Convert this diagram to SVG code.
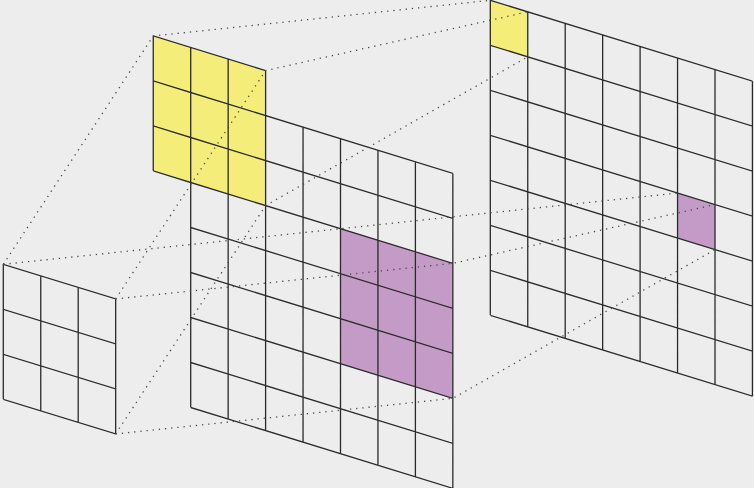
<svg xmlns="http://www.w3.org/2000/svg" width="754" height="488" viewBox="0 0 754 488">
  <style>
    .g { fill: none; stroke: #2a2a2a; stroke-width: 1.3; }
    .yel { fill: #f5ed7a; stroke: none; }
    .pur { fill: #c49ac6; stroke: none; }
    .dot { fill: none; stroke: #4a4a4a; stroke-width: 1.3; stroke-dasharray: 1.3 4.9; }
  </style>
  <rect x="0" y="0" width="754" height="488" fill="#ededed"/>

  <g id="kernel" transform="matrix(1,0.3084,0,1,3.3,264.3)">
    <path class="g" d="M0,0V135M37.45,0V135M74.9,0V135M112.35,0V135M0,0H112.35M0,45H112.35M0,90H112.35M0,135H112.35"/>
  </g>

  <g id="input" transform="matrix(1,0.3084,0,1,190.7,92.5)">
    <rect class="yel" x="-37.45" y="-45" width="112.35" height="135"/>
    <rect class="pur" x="149.8" y="90" width="112.35" height="135"/>
    <path class="g" d="M0,0V315M37.45,0V315M74.9,0V315M112.35,0V315M149.8,0V315M187.25,0V315M224.7,0V315M262.15,0V315M0,0H262.15M0,45H262.15M0,90H262.15M0,135H262.15M0,180H262.15M0,225H262.15M0,270H262.15M0,315H262.15"/>
    <path class="g" d="M-37.45,-45V90M0,-45V0M37.45,-45V0M74.9,-45V0M-37.45,-45H74.9M-37.45,0H0M-37.45,45H0M-37.45,90H0"/>
  </g>

  <g id="output" transform="matrix(1,0.3084,0,1,490.3,0.3)">
    <rect class="yel" x="0" y="0" width="37.45" height="45"/>
    <rect class="pur" x="187.25" y="135" width="37.45" height="45"/>
    <path class="g" d="M0,0V315M37.45,0V315M74.9,0V315M112.35,0V315M149.8,0V315M187.25,0V315M224.7,0V315M262.15,0V315M0,0H262.15M0,45H262.15M0,90H262.15M0,135H262.15M0,180H262.15M0,225H262.15M0,270H262.15M0,315H262.15"/>
  </g>

  <g id="connectors">
    <polyline class="dot" points="3.3,264.3 153.25,35.95 490.3,0.3"/>
    <polyline class="dot" points="115.65,298.95 265.6,70.6 527.75,11.85"/>
    <polyline class="dot" points="115.65,433.95 265.6,205.6 527.75,56.85"/>
    <polyline class="dot" points="3.3,264.3 340.5,228.7 677.55,193.05"/>
    <polyline class="dot" points="115.65,298.95 452.85,263.35 715,204.6"/>
    <polyline class="dot" points="115.65,433.95 452.85,398.35 715,249.6"/>
  </g>
</svg>
